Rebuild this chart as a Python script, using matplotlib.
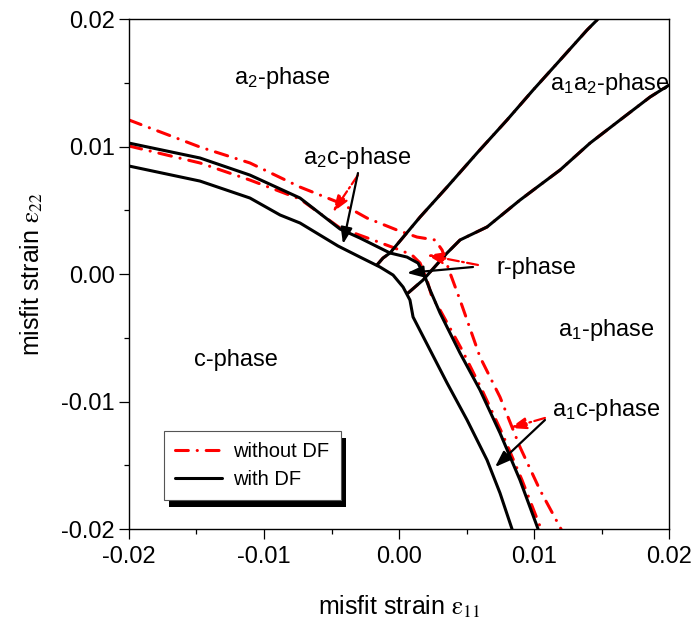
import matplotlib
matplotlib.use('Agg')
import matplotlib.pyplot as plt
from matplotlib.patches import Rectangle
from matplotlib.ticker import MultipleLocator, FormatStrFormatter

plt.rcParams['font.family'] = ['Liberation Sans', 'DejaVu Sans']
plt.rcParams['mathtext.fontset'] = 'stix'

# --- phase boundaries with depolarization field (DF) ---
# c-phase / (a2c, a1c) boundary
df_c_x = [-0.0200, -0.01474, -0.01104, -0.00881, -0.00733, -0.00452, -0.00289, -0.00141,
          -0.00044, 0.00030, 0.00081, 0.00104, 0.00230, 0.00356, 0.00504, 0.00652, 0.00748, 0.00837]
df_c_y = [0.00847, 0.00729, 0.00596, 0.00463, 0.00400, 0.00220, 0.00133, 0.00055,
          -0.00008, -0.00102, -0.00204, -0.00337, -0.00596, -0.00855, -0.01145, -0.01459, -0.01718, -0.0200]
# (a2c, a1c) / (a2, r, a1) boundary
df_a_x = [-0.0200, -0.01474, -0.01104, -0.00733, -0.00437, -0.00289, -0.00067, 0.00059,
          0.00141, 0.00193, 0.00230, 0.00304, 0.00452, 0.00600, 0.00748, 0.00896, 0.01030]
df_a_y = [0.01027, 0.00910, 0.00776, 0.00596, 0.00353, 0.00282, 0.00165, 0.00133,
          0.00086, -0.00024, -0.00125, -0.00306, -0.00620, -0.00910, -0.01247, -0.01616, -0.0200]

# a1a2-phase boundaries (same with and without DF)
a1a2_up_x = [-0.00163, -0.00119, -0.00067, 0.00156, 0.00356, 0.00578, 0.00800, 0.00993,
             0.01193, 0.01393, 0.01474]
a1a2_up_y = [0.00071, 0.00125, 0.00165, 0.00447, 0.00682, 0.00949, 0.01208, 0.01443,
             0.01678, 0.01914, 0.0200]
a1a2_lo_x = [0.00067, 0.00178, 0.00356, 0.00452, 0.00652, 0.00896, 0.01044, 0.01193,
             0.01415, 0.01637, 0.01859, 0.0200]
a1a2_lo_y = [-0.00149, -0.00047, 0.00165, 0.00267, 0.00369, 0.00580, 0.00698, 0.00816,
             0.01027, 0.01208, 0.01388, 0.01482]

# --- phase boundaries without DF ---
nodf_c_x = [-0.0200, -0.01474, -0.01104, -0.00733, -0.00437, -0.00193, 0.00007, 0.00096,
            0.00156, 0.00207, 0.00244, 0.00304, 0.00467, 0.00615, 0.00763, 0.00911, 0.01052]
nodf_c_y = [0.01004, 0.00871, 0.00737, 0.00588, 0.00361, 0.00267, 0.00188, 0.00149,
            0.00086, -0.00047, -0.00180, -0.00282, -0.00596, -0.00910, -0.01247, -0.01616, -0.0200]
nodf_a_x = [-0.0200, -0.01474, -0.01104, -0.00733, -0.00437, -0.00237, -0.00015, 0.00133,
            0.00267, 0.00319, 0.00378, 0.00452, 0.00600, 0.00748, 0.00896, 0.01044, 0.01200]
nodf_a_y = [0.01208, 0.00996, 0.00871, 0.00682, 0.00557, 0.00439, 0.00345, 0.00290,
            0.00267, 0.00188, 0.00008, -0.00204, -0.00651, -0.00965, -0.01357, -0.01694, -0.0200]

# phase names
phase_text = [r'$\mathregular{a_2}$-phase', r'$\mathregular{a_1a_2}$-phase', r'$\mathregular{a_2c}$-phase',
              'r-phase', r'$\mathregular{a_1}$-phase', 'c-phase', r'$\mathregular{a_1c}$-phase']
phase_x = [-0.00867, 0.01563, -0.00311, 0.01015, 0.01533, -0.01207, 0.01533]
phase_y = [0.01537, 0.01490, 0.00910, 0.00047, -0.00439, -0.00675, -0.01067]

# arrows pointing from the labels into the narrow phase regions
arrow_tail_x = [-0.00304, -0.00304, 0.00585, 0.00548, 0.01081, 0.01081]
arrow_tail_y = [0.00776, 0.00792, 0.00071, 0.00055, -0.01129, -0.01145]
arrow_head_x = [-0.00489, -0.00415, 0.00207, 0.00059, 0.00822, 0.00711]
arrow_head_y = [0.00486, 0.00235, 0.00149, 0.00008, -0.01208, -0.01514]
arrow_color = ['red', 'black', 'red', 'black', 'red', 'black']

red_dash = (4.2, 2.9, 0.05, 2.9)

fig = plt.figure(figsize=(6.98, 6.30), dpi=100)
ax = fig.add_axes([0.1848, 0.1603, 0.7737, 0.8095])

red_kw = dict(color='red', lw=2.2, dashes=red_dash, dash_capstyle='round')
blk_kw = dict(color='black', lw=2.2, solid_capstyle='round')

ax.plot(a1a2_up_x, a1a2_up_y, **red_kw)
ax.plot(a1a2_lo_x, a1a2_lo_y, **red_kw)
ax.plot(nodf_c_x, nodf_c_y, **red_kw)
ax.plot(nodf_a_x, nodf_a_y, label='without DF', **red_kw)

ax.plot(df_c_x, df_c_y, label='with DF', **blk_kw)
ax.plot(df_a_x, df_a_y, **blk_kw)
ax.plot(a1a2_up_x, a1a2_up_y, **blk_kw)
ax.plot(a1a2_lo_x, a1a2_lo_y, **blk_kw)

for tx, ty, hx, hy, c in zip(arrow_tail_x, arrow_tail_y, arrow_head_x, arrow_head_y, arrow_color):
    ls = (0, (5, 1.5, 0.8, 1.5)) if c == 'red' else '-'
    ax.annotate('', xy=(hx, hy), xytext=(tx, ty),
                arrowprops=dict(arrowstyle='-|>,head_length=0.7,head_width=0.25',
                                color=c, lw=1.6, linestyle=ls, mutation_scale=14,
                                shrinkA=0, shrinkB=0))

for t, x, y in zip(phase_text, phase_x, phase_y):
    ax.text(x, y, t, fontsize=17, ha='center', va='center')

ax.set_xlim(-0.02, 0.02)
ax.set_ylim(-0.02, 0.02)
ax.xaxis.set_major_locator(MultipleLocator(0.01))
ax.yaxis.set_major_locator(MultipleLocator(0.01))
ax.xaxis.set_minor_locator(MultipleLocator(0.005))
ax.yaxis.set_minor_locator(MultipleLocator(0.005))
ax.xaxis.set_major_formatter(FormatStrFormatter('%.2f'))
ax.yaxis.set_major_formatter(FormatStrFormatter('%.2f'))
ax.tick_params(which='both', direction='out', top=False, right=False, width=0.9, labelsize=17)
ax.tick_params(which='major', length=7.2)
ax.tick_params(which='minor', length=3.6)
ax.tick_params(axis='x', pad=5)
ax.tick_params(axis='y', pad=3)
for s in ax.spines.values():
    s.set_linewidth(1.0)

ax.set_xlabel(r'misfit strain $\mathrm{\varepsilon_{11}}$', fontsize=18, labelpad=18)
ax.set_ylabel(r'misfit strain $\mathrm{\varepsilon_{22}}$', fontsize=18, labelpad=12)

leg = ax.legend(loc='lower left', bbox_to_anchor=(0.0648, 0.0569), borderaxespad=0,
                fontsize=14.5, handlelength=2.35, handletextpad=0.55, borderpad=0.55,
                labelspacing=0.45, fancybox=False, framealpha=1, edgecolor='#555555')
leg.get_frame().set_linewidth(0.8)

# drop shadow behind the legend box
fig.canvas.draw()
bb = leg.get_window_extent()
inv = ax.transAxes.inverted()
(sx0, sy0), (sx1, sy1) = inv.transform([[bb.x0 + 5, bb.y0 - 7], [bb.x1 + 5, bb.y1 - 7]])
ax.add_patch(Rectangle((sx0, sy0), sx1 - sx0, sy1 - sy0, transform=ax.transAxes,
                       facecolor='black', edgecolor='none', zorder=4.9, clip_on=False))

fig.savefig('out.png', dpi=100)
